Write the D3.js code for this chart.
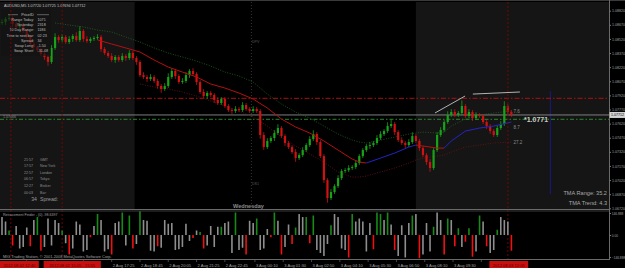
<!DOCTYPE html>
<html><head><meta charset="utf-8">
<script src="https://cdnjs.cloudflare.com/ajax/libs/d3/7.8.5/d3.min.js"></script>
<style>
html,body{margin:0;padding:0;background:#000;overflow:hidden}
svg{display:block;font-family:"Liberation Sans",Arial,sans-serif}
</style></head><body><div id="chart"></div><script>
// AUDUSD M5, one candle here = 10 minutes
const firstOpen = 1.08690;
const closes = [
 1.08700,1.08732,1.08742,1.08679,1.08647,1.08668,1.08615,1.08540,1.08466,1.08434,
 1.08402,1.08360,1.08328,1.08275,1.08424,1.08540,1.08509,1.08540,1.08487,1.08519,
 1.08551,1.08509,1.08604,1.08519,1.08498,1.08519,1.08530,1.08540,1.08413,1.08370,
 1.08338,1.08296,1.08328,1.08296,1.08338,1.08317,1.08370,1.08317,1.08275,1.08136,
 1.08115,1.08094,1.08115,1.08073,1.08020,1.07988,1.08020,1.08115,1.08179,1.08126,
 1.08062,1.08073,1.08136,1.08179,1.08147,1.08062,1.07956,1.07913,1.07945,1.07924,
 1.07871,1.07839,1.07881,1.07807,1.07764,1.07754,1.07775,1.07764,1.07818,1.07775,
 1.07754,1.07775,1.07754,1.07499,1.07371,1.07435,1.07467,1.07520,1.07573,1.07488,
 1.07414,1.07371,1.07318,1.07254,1.07286,1.07339,1.07392,1.07456,1.07509,1.07424,
 1.07275,1.07020,1.06829,1.06893,1.06956,1.07041,1.07116,1.07126,1.07148,1.07158,
 1.07201,1.07275,1.07339,1.07382,1.07392,1.07414,1.07467,1.07509,1.07541,1.07594,
 1.07616,1.07530,1.07445,1.07414,1.07392,1.07424,1.07488,1.07435,1.07360,1.07286,
 1.07212,1.07148,1.07339,1.07499,1.07552,1.07637,1.07711,1.07743,1.07711,1.07733,
 1.07807,1.07701,1.07743,1.07679,1.07711,1.07701,1.07637,1.07594,1.07541,1.07499,
 1.07573,1.07616,1.07807,1.07743,1.07712];
// wicks in pips
const wickUp = [
 3,2,4,2,2,3,2,1,2,2, 1,2,2,2,3,4,2,3,2,3, 2,4,5,2,3,2,2,3,2,2, 2,3,2,2,3,2,3,2,2,2,
 3,2,3,2,2,2,3,4,3,2, 2,3,3,2,3,2,2,3,2,2, 2,3,2,2,2,2,3,2,3,2, 2,3,2,2,3,3,2,3,4,2,
 2,2,2,3,2,3,2,3,4,2, 2,2,2,3,2,3,2,2,3,2, 3,2,2,2,3,2,3,3,2,4, 5,2,2,3,2,3,4,2,2,2,
 2,3,2,3,3,2,4,3,3,2, 6,2,3,2,3,2,2,2,2,2, 3,3,5,2,2];
const wickDn = [
 2,3,2,3,2,2,3,2,2,3, 2,2,3,4,2,2,3,2,2,2, 3,2,2,3,2,2,2,2,3,2, 2,2,3,2,2,3,2,2,3,2,
 2,3,2,2,3,4,2,2,2,3, 2,2,2,3,2,3,2,2,3,2, 3,2,2,2,2,3,2,2,2,2, 2,2,2,4,3,2,2,3,2,2,
 3,2,2,4,2,2,2,2,2,3, 2,3,5,2,2,2,2,2,2,2, 2,2,2,2,3,2,2,2,2,2, 2,3,2,2,3,2,2,2,3,2,
 3,4,2,2,2,2,2,2,2,2, 2,2,2,3,2,2,2,3,3,2, 2,2,2,3,2];

// TMA bands, read at these candle numbers
const tmaBars = [15,19,23,27,31,35,39,43,47,51,55,59,63,67,71,75,79,83,87,91,95,99,101,103,107,111,115,117,119,123,125,127,131,135,139,144];
const tmaMid = [null,null,null,1.08509,1.08466,1.08424,1.08381,1.08296,1.08221,1.08168,1.08115,1.08041,1.07998,1.07945,1.07881,1.07786,1.07669,1.07584,1.07520,1.07435,1.07339,1.07243,1.07212,1.07201,1.07254,1.07307,1.07371,1.07392,1.07382,1.07360,1.07360,1.07435,1.07541,1.07573,1.07594,1.07637];
const tmaUp = [1.08689,1.08668,1.08647,1.08615,1.08594,1.08540,1.08487,1.08424,1.08370,1.08328,1.08285,1.08232,1.08168,1.08126,1.08062,1.07934,1.07828,1.07743,1.07679,1.07594,1.07509,1.07445,1.07424,1.07414,1.07445,1.07477,1.07509,1.07520,1.07530,1.07520,1.07530,1.07594,1.07669,1.07711,1.07733,1.07754];
const tmaDn = [null,null,null,null,null,null,1.08041,1.08009,1.07988,1.07956,1.07913,1.07860,1.07807,1.07754,1.07690,1.07594,1.07477,1.07382,1.07297,1.07212,1.07105,1.07052,1.07052,1.07063,1.07105,1.07148,1.07201,1.07233,1.07254,1.07275,1.07286,1.07318,1.07371,1.07392,1.07414,1.07424];
const bandLabels = ["7.6","8.7","27.2"];
const bandLabelPrices = [1.07754,1.07584,1.07414];

const histVals = [
 120,90,30,-70,60,-90,-80,50,-75,100, 120,-105,-80,110,-70,100,80,30,-55,-130,
 -90,90,70,-110,-100,-15,60,140,100,-110, -95,-130,80,90,150,-70,130,-90,-60,160,
 100,95,-105,-110,-75,-85,100,75,80,-100, -95,-80,75,-40,-20,30,20,-90,-70,60,
 -80,55,55,80,90,-120,150,-100,-85,-130, 95,80,110,-100,-90,40,-15,150,95,-130,
 -80,70,-60,50,140,120,120,-55,130,-100, -120,-140,-60,65,140,120,-90,-100,-150,140,
 90,110,90,-110,80,-95,150,140,100,150, 70,-100,-140,65,-150,80,130,140,-155,-130,
 80,-110,55,150,100,-130,110,100,-75,45, -80,-45,45,-145,-110,130,90,-75,-120,-100,
 35,120,100,90,-105];
const histKind = [
 'n','n','g','r','n','n','n','n','r','n', 'g','r','n','n','n','n','n','g','n','r',
 'n','n','n','n','n','r','n','g','n','n', 'n','r','n','n','g','n','g','r','n','g',
 'n','n','n','n','r','n','n','n','n','n', 'n','n','n','n','r','n','g','r','n','n',
 'n','n','g','n','n','n','g','n','n','r', 'n','n','g','n','n','n','r','g','n','r',
 'n','n','r','g','n','n','g','r','g','n', 'n','n','n','g','n','n','n','n','r','g',
 'n','n','n','n','n','r','g','g','n','g', 'n','r','n','n','n','n','g','n','r','n',
 'n','n','g','n','n','r','g','n','r','g', 'n','r','g','r','n','g','n','r','n','n',
 'g','n','n','n','r'];
const histMax = 146.888;

const priceTicks = [1.08820,1.08670,1.08520,1.08370,1.08220,1.08070,1.07920,1.07770,1.07620,1.07470,1.07320,1.07170,1.07020,1.06870,1.06720];
const lastPrice = 1.07712;
const resistLevel = 1.07889;
const supportLevel = 1.07666;

const timeTicks = ["2 Aug 12:05","2 Aug 13:25","2 Aug 14:45","2 Aug 16:05","2 Aug 17:25","2 Aug 18:45","2 Aug 20:05","2 Aug 21:25","2 Aug 22:45","3 Aug 00:10","3 Aug 01:30","3 Aug 02:50","3 Aug 04:10","3 Aug 05:30","3 Aug 06:50","3 Aug 08:10","3 Aug 09:30","3 Aug 10:50"];
const markerTimes = ["2 Aug 12:40","2 Aug 15:05","3 Aug 12:05"];
const markerLabels = ["2012.08.02 12:40","2012.08.02 15:05 - 15:55","2012.08.03 12:05"];
const shadeEnd = "2 Aug 18:30", shadeStart = "3 Aug 07:45";
const daySep = "3 Aug 00:00";
const blueLine = {t: "3 Aug 14:05", p0: 1.07965, p1: 1.06870};
const trendLines = [[122.4,1.07733,130.9,1.07913],[133.1,1.07934,146.4,1.07956]];

const infoLabels = ["Range Today:","Yesterday:","10 Day Range:","Time to next bar:","Spread:","Swap Long:","Swap Short:"];
const infoValues = ["1071","2318","1186","02:23","34","-1.50","-31.48"];
const clockTimes = ["21:57","17:57","22:57","06:57","12:27","00:03"];
const clockZones = ["GMT","New York","London","Tokyo","Broker","Bar:"];

const W = 625, H = 268, axisX = 609, pip = 0.0001;
function barOf(t) {
  const p = t.split(' '), hm = p[2].split(':');
  return ((+p[0] - 2) * 1440 + (+hm[0]) * 60 + (+hm[1]) - (12 * 60 + 15)) / 10;
}

const svg = d3.select('#chart').append('svg').attr('width', W).attr('height', H);
svg.append('rect').attr('width', W).attr('height', H).attr('fill', '#000');

const x = d3.scaleLinear().domain([0, 144]).range([2, 511.4]);
const y = d3.scaleLinear().domain([1.06720, 1.08820]).range([208.3, 10.7]);
const yh = d3.scaleLinear().domain([-histMax, histMax]).range([257, 213]);

const main = svg.append('g');
main.append('defs').append('clipPath').attr('id', 'mc').append('rect')
  .attr('x', 0).attr('y', 2).attr('width', axisX).attr('height', 207);
const plot = main.append('g').attr('clip-path', 'url(#mc)');

// session shading
plot.append('rect').attr('x', 0).attr('y', 2).attr('width', x(barOf(shadeEnd))).attr('height', 207).attr('fill', '#151515');
plot.append('rect').attr('x', x(barOf(shadeStart))).attr('y', 2).attr('width', axisX - x(barOf(shadeStart))).attr('height', 207).attr('fill', '#151515');

// vertical markers
markerTimes.forEach(t => {
  const xx = x(barOf(t));
  svg.append('line').attr('x1', xx).attr('x2', xx).attr('y1', 2).attr('y2', 259)
    .attr('stroke', '#8a0000').attr('stroke-width', 0.8).attr('stroke-dasharray', '2,2');
});
plot.append('line').attr('x1', x(barOf(daySep))).attr('x2', x(barOf(daySep))).attr('y1', 2).attr('y2', 209)
  .attr('stroke', '#444').attr('stroke-width', 0.8).attr('stroke-dasharray', '1,2');
plot.append('line').attr('x1', x(barOf(blueLine.t))).attr('x2', x(barOf(blueLine.t)))
  .attr('y1', y(blueLine.p0)).attr('y2', y(blueLine.p1)).attr('stroke', '#1a1a8a').attr('stroke-width', 1);

// horizontal levels
plot.append('line').attr('x1', 0).attr('x2', axisX).attr('y1', y(resistLevel)).attr('y2', y(resistLevel))
  .attr('stroke', '#c01010').attr('stroke-width', 0.9).attr('stroke-dasharray', '5,2,1.5,2');
plot.append('line').attr('x1', 0).attr('x2', axisX).attr('y1', y(supportLevel)).attr('y2', y(supportLevel))
  .attr('stroke', '#2a9a2a').attr('stroke-width', 0.9).attr('stroke-dasharray', '4,2,1.5,2');
plot.append('line').attr('x1', 0).attr('x2', axisX).attr('y1', y(lastPrice)).attr('y2', y(lastPrice))
  .attr('stroke', '#8c8c8c').attr('stroke-width', 0.9);

// TMA bands
const bandLine = vals => d3.line().defined((d, k) => vals[k] !== null)
  .x((d, k) => x(tmaBars[k])).y((d, k) => y(vals[k]))(tmaBars);
plot.append('path').attr('d', bandLine(tmaUp)).attr('fill', 'none').attr('stroke', '#1f6a1f')
  .attr('stroke-width', 0.8).attr('stroke-dasharray', '1,1.5');
plot.append('path').attr('d', bandLine(tmaDn)).attr('fill', 'none').attr('stroke', '#701414')
  .attr('stroke-width', 0.8).attr('stroke-dasharray', '1,1.5');

// candles
const candles = closes.map((c, i) => {
  const o = i ? closes[i - 1] : firstOpen;
  return {i, o, c, h: Math.max(o, c) + wickUp[i] * pip, l: Math.min(o, c) - wickDn[i] * pip};
});
const cg = plot.append('g');
cg.selectAll('.wick').data(candles).enter().append('line')
  .attr('x1', d => x(d.i)).attr('x2', d => x(d.i))
  .attr('y1', d => y(d.h)).attr('y2', d => y(d.l))
  .attr('stroke', d => d.c >= d.o ? '#17a317' : '#d01212').attr('stroke-width', 0.8);
cg.selectAll('.body').data(candles).enter().append('rect')
  .attr('x', d => x(d.i) - 1.1).attr('width', 2.2)
  .attr('y', d => y(Math.max(d.o, d.c)))
  .attr('height', d => Math.max(0.8, Math.abs(y(d.o) - y(d.c))))
  .attr('fill', d => d.c >= d.o ? '#17a317' : '#d01212');

// TMA centre, blue while rising, red while falling
for (let k = 1; k < tmaBars.length; k++) {
  if (tmaMid[k] === null || tmaMid[k - 1] === null) continue;
  plot.append('line').attr('x1', x(tmaBars[k - 1])).attr('y1', y(tmaMid[k - 1]))
    .attr('x2', x(tmaBars[k])).attr('y2', y(tmaMid[k]))
    .attr('stroke', tmaMid[k] > tmaMid[k - 1] ? '#2424c8' : '#b51010').attr('stroke-width', 1);
}

// trend lines
trendLines.forEach(t => {
  plot.append('line').attr('x1', x(t[0])).attr('y1', y(t[1])).attr('x2', x(t[2])).attr('y2', y(t[3]))
    .attr('stroke', '#c4c4c4').attr('stroke-width', 0.9);
});

bandLabels.forEach((t, k) => {
  plot.append('text').attr('x', x(144) + 2).attr('y', y(bandLabelPrices[k]) + 1.5)
    .attr('font-size', 4.5).attr('fill', '#8a8a8a').text(t);
});
plot.append('text').attr('x', 524).attr('y', y(supportLevel) + 2.5).attr('font-size', 7).attr('font-weight', 'bold')
  .attr('fill', '#c8c8c8').text('*1.0771');
plot.append('text').attr('x', 3).attr('y', y(supportLevel) - 1.2).attr('font-size', 3.6).attr('fill', '#8c8c8c').text('1.07666');
plot.append('text').attr('x', 607).attr('y', 195).attr('text-anchor', 'end').attr('font-size', 5.6).attr('fill', '#a8a8a8').text('TMA Range: 35.2');
plot.append('text').attr('x', 607).attr('y', 205).attr('text-anchor', 'end').attr('font-size', 5.6).attr('fill', '#a8a8a8').text('TMA Trend: 4.3');
plot.append('text').attr('x', 233).attr('y', 208).attr('font-size', 5.6).attr('font-weight', 'bold').attr('fill', '#8a8a8a').text('Wednesday');
plot.append('text').attr('x', 252).attr('y', 43).attr('font-size', 3.6).attr('fill', '#5a5a5a').text('DPV');
plot.append('text').attr('x', 252).attr('y', 185).attr('font-size', 3.6).attr('fill', '#5a5a5a').text('DS1');

// info panel
plot.append('rect').attr('x', 1).attr('y', 9).attr('width', 50).attr('height', 47).attr('fill', '#121212').attr('opacity', 0.6);
plot.append('text').attr('x', 27.5).attr('y', 15.8).attr('text-anchor', 'middle').attr('font-size', 3.8).attr('fill', '#c0c0c0').text('PriceID');
plot.append('line').attr('x1', 8).attr('x2', 18).attr('y1', 14.7).attr('y2', 14.7).attr('stroke', '#aaa').attr('stroke-width', 0.5);
plot.append('line').attr('x1', 37).attr('x2', 49).attr('y1', 14.7).attr('y2', 14.7).attr('stroke', '#aaa').attr('stroke-width', 0.5);
infoLabels.forEach((t, k) => {
  plot.append('text').attr('x', 34).attr('y', 21 + k * 5.2).attr('text-anchor', 'end').attr('font-size', 3.7).attr('fill', '#bdbdbd').text(t);
  plot.append('text').attr('x', 37.5).attr('y', 21 + k * 5.2).attr('font-size', 3.7).attr('fill', '#bdbdbd').text(infoValues[k]);
});
clockTimes.forEach((t, k) => {
  plot.append('text').attr('x', 33).attr('y', 160.6 + k * 6.6).attr('text-anchor', 'end').attr('font-size', 3.6).attr('fill', '#909090').text(t);
  plot.append('text').attr('x', 40).attr('y', 160.6 + k * 6.6).attr('font-size', 3.6).attr('fill', '#909090').text(clockZones[k]);
});
plot.append('text').attr('x', 37).attr('y', 201).attr('text-anchor', 'end').attr('font-size', 5.2).attr('fill', '#9a9a9a').text('34');
plot.append('text').attr('x', 40).attr('y', 201).attr('font-size', 5.2).attr('fill', '#9a9a9a').text('Spread:');
plot.append('text').attr('x', 4).attr('y', 6.6).attr('font-size', 3.8).attr('fill', '#c4c4c4')
  .text('AUDUSD,M5  1.07720 1.07725 1.07694 1.07712');

// indicator sub-window
const sub = svg.append('g');
sub.selectAll('.hb').data(histVals).enter().append('rect')
  .attr('x', (d, i) => x(i) - 0.8).attr('width', 1.6)
  .attr('y', d => yh(Math.max(0, d))).attr('height', d => Math.abs(yh(d) - yh(0)))
  .attr('fill', (d, i) => histKind[i] === 'g' ? '#188a18' : histKind[i] === 'r' ? '#f01010' : '#8e8e8e');
sub.append('text').attr('x', 3).attr('y', 216).attr('font-size', 3.6).attr('fill', '#a0a0a0').text('Retracement Finder - (0) -98.6397');
sub.append('text').attr('x', 3).attr('y', 258).attr('font-size', 3.9).attr('fill', '#a0a0a0').text('MIG Trading Station, \u00a9 2001-2008 MetaQuotes Software Corp.');

// borders
svg.append('line').attr('x1', 0).attr('x2', W).attr('y1', 0.5).attr('y2', 0.5).attr('stroke', '#3a3a3a');
svg.append('line').attr('x1', 0).attr('x2', axisX).attr('y1', 209.5).attr('y2', 209.5).attr('stroke', '#6a6a6a');
svg.append('line').attr('x1', 0).attr('x2', axisX).attr('y1', 211).attr('y2', 211).attr('stroke', '#3a3a3a');
svg.append('line').attr('x1', 0).attr('x2', axisX).attr('y1', 259.5).attr('y2', 259.5).attr('stroke', '#6a6a6a');
svg.append('line').attr('x1', axisX + 0.5).attr('x2', axisX + 0.5).attr('y1', 0).attr('y2', 260).attr('stroke', '#6a6a6a');

// price axis
const pa = svg.append('g').attr('transform', `translate(${axisX + 0.5},0)`)
  .call(d3.axisRight(y).tickValues(priceTicks).tickSize(1.5).tickPadding(1).tickFormat(d3.format('.5f')));
pa.select('.domain').remove();
pa.selectAll('line').attr('stroke', '#777');
pa.selectAll('text').attr('fill', '#a0a0a0').attr('font-size', 3.6).attr('font-family', '"Liberation Sans",Arial,sans-serif');
svg.append('rect').attr('x', axisX + 0.5).attr('y', y(lastPrice) - 3).attr('width', 16).attr('height', 6).attr('fill', '#d4d4d4');
svg.append('text').attr('x', axisX + 2).attr('y', y(lastPrice) + 1.3).attr('font-size', 3.6).attr('fill', '#000').text(d3.format('.5f')(lastPrice));

const ha = svg.append('g').attr('transform', `translate(${axisX + 0.5},0)`)
  .call(d3.axisRight(yh).tickValues([histMax, 0, -histMax]).tickSize(1.5).tickPadding(0.8)
    .tickFormat(d => d === 0 ? '0.00' : d3.format('.3f')(d)));
ha.select('.domain').remove();
ha.selectAll('line').attr('stroke', '#777');
ha.selectAll('text').attr('fill', '#a0a0a0').attr('font-size', 3.2).attr('font-family', '"Liberation Sans",Arial,sans-serif');

// time axis: red boxes of the vertical lines cover the regular labels under them
const boxes = markerTimes.map((t, k) => {
  const xx = x(barOf(t)), w = markerLabels[k].length * 2.3 + 2;
  const x0 = Math.max(0, xx - 18.5);
  return {x0, x1: x0 + w, label: markerLabels[k]};
});
timeTicks.forEach(t => {
  const xx = x(barOf(t));
  svg.append('line').attr('x1', xx).attr('x2', xx).attr('y1', 260).attr('y2', 262).attr('stroke', '#777').attr('stroke-width', 0.6);
  const hidden = boxes.some(b => xx + 1 >= b.x0 - 22 && xx + 1 <= b.x1);
  if (!hidden) svg.append('text').attr('x', xx + 1).attr('y', 266.6).attr('font-size', 4.1).attr('fill', '#a0a0a0').text(t);
});
boxes.forEach(b => {
  svg.append('rect').attr('x', b.x0).attr('y', 261).attr('width', b.x1 - b.x0).attr('height', 7).attr('fill', '#c81010');
  svg.append('text').attr('x', (b.x0 + b.x1) / 2).attr('y', 266.6).attr('text-anchor', 'middle').attr('font-size', 4.1).attr('fill', '#5a0000').text(b.label);
});
</script></body></html>
